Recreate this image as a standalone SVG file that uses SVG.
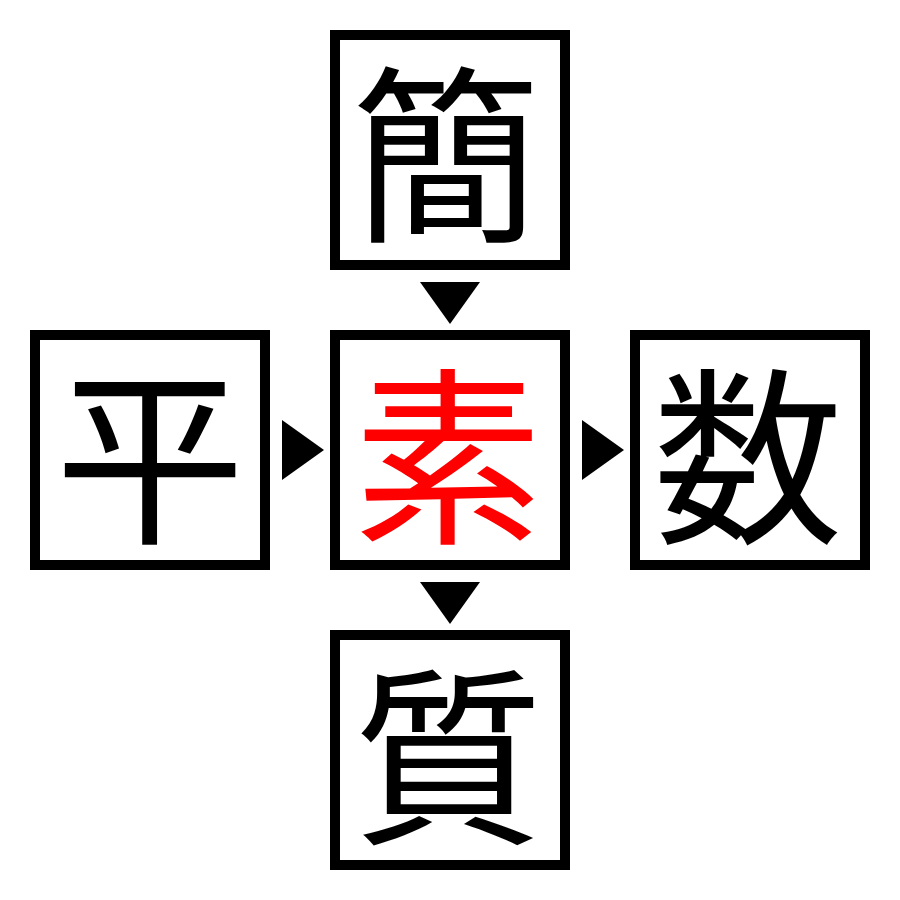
<svg xmlns="http://www.w3.org/2000/svg" width="900" height="900" viewBox="0 0 900 900">
<style>
.box{fill:#fff;stroke:#000;stroke-width:10}
.ch{font-family:"Noto Sans CJK JP","Noto Sans CJK SC",sans-serif;font-size:190px;text-anchor:middle;dominant-baseline:central;fill:#000}
.red{fill:#ff0000}
.arr{fill:#000}
</style>
<rect width="900" height="900" fill="#fff"/>
<g id="node-top"><rect class="box" x="335" y="35" width="230" height="230"/><text class="ch" x="446" y="144">簡</text></g>
<g id="node-left"><rect class="box" x="35" y="335" width="230" height="230"/><text class="ch" x="150" y="446">平</text></g>
<g id="node-center"><rect class="box" x="335" y="335" width="230" height="230"/><text class="ch red" x="448" y="446">素</text></g>
<g id="node-right"><rect class="box" x="635" y="335" width="230" height="230"/><text class="ch" x="748" y="446">数</text></g>
<g id="node-bottom"><rect class="box" x="335" y="635" width="230" height="230"/><text class="ch" x="448" y="746">質</text></g>
<g id="connectors">
<polygon class="arr" points="420,282 480,282 450,324"/>
<polygon class="arr" points="282,420 282,480 324,450"/>
<polygon class="arr" points="582,420 582,480 624,450"/>
<polygon class="arr" points="420,582 480,582 450,624"/>
</g>
</svg>
